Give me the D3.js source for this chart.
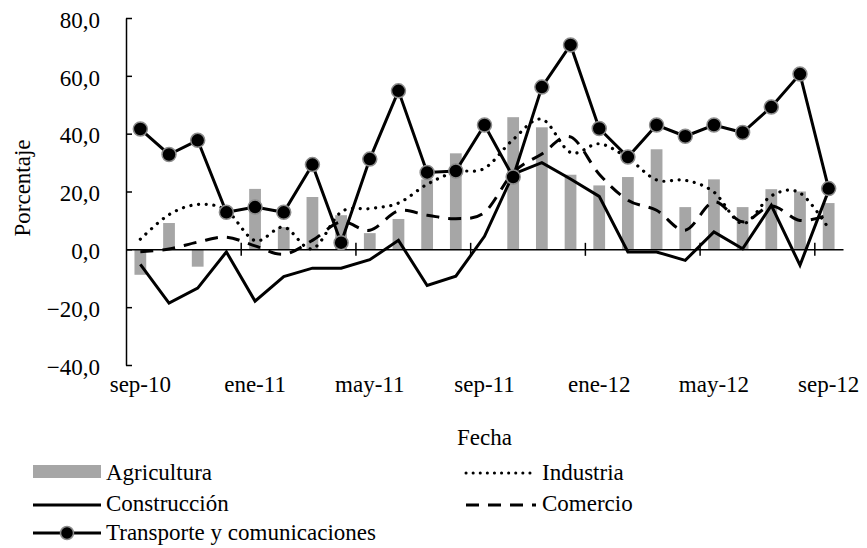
<!DOCTYPE html>
<html>
<head>
<meta charset="utf-8">
<script src="https://cdn.jsdelivr.net/npm/d3@7"></script>
<style>
  body { margin: 0; background: #fff; }
  text { font-family: "Liberation Serif", "Times New Roman", serif; fill: #000; }
  .axis path, .axis line { stroke: #000; stroke-width: 1.5; }
</style>
</head>
<body>
<div id="chart"></div>
<script>
var meses = ["sep-10","oct-10","nov-10","dic-10","ene-11","feb-11","mar-11","abr-11","may-11","jun-11","jul-11","ago-11",
             "sep-11","oct-11","nov-11","dic-11","ene-12","feb-12","mar-12","abr-12","may-12","jun-12","jul-12","ago-12","sep-12"];

var agricultura  = [-8.8, 9.1, -6.0, 0, 20.9, 7.7, 18.1, 11.8, 5.6, 10.5, 24.2, 33.2, 0, 45.7, 42.2, 25.8, 22.1, 25.0, 34.6, 14.6, 24.2, 14.6, 20.8, 20.0, 16.0];
var industria    = [3.5, 12.0, 15.5, 13.5, 3.0, 7.7, 0.2, 12.9, 14.1, 16.0, 22.5, 26.8, 28.0, 38.0, 45.0, 33.5, 36.5, 31.5, 24.0, 23.9, 19.8, 8.9, 18.5, 19.5, 7.2];
var construccion = [-5.2, -18.6, -13.4, -0.9, -17.9, -9.4, -6.5, -6.5, -3.6, 3.1, -12.5, -9.3, 4.5, 26.0, 30.0, 24.3, 18.3, -0.9, -0.9, -3.8, 6.0, 0.2, 15.2, -5.5, 20.4];
var comercio     = [-0.8, 0.1, 2.5, 4.2, 1.2, -1.7, 3.1, 9.5, 6.6, 13.3, 11.8, 10.6, 12.8, 26.5, 33.0, 38.9, 26.0, 17.0, 13.5, 6.6, 16.4, 9.5, 15.0, 10.0, 12.0];
var transporte   = [41.6, 32.8, 37.7, 12.8, 14.6, 12.8, 29.3, 2.3, 31.2, 54.8, 26.6, 27.1, 43.0, 25.0, 56.1, 70.7, 41.8, 31.9, 43.0, 39.1, 43.0, 40.4, 49.2, 60.6, 21.0];

var yTicks = [-40, -20, 0, 20, 40, 60, 80];
var labelMeses = meses.filter(function (d, i) { return i % 4 === 0; });

function drawChart() {
  var W = 867, H = 548;
  var pLeft = 126, pRight = 843, pTop = 18, pBottom = 365;
  var fs = "23px";

  var svg = d3.select("#chart").append("svg")
    .attr("width", W)
    .attr("height", H);

  var x = d3.scaleBand()
    .domain(meses)
    .range([pLeft, pRight]);

  var y = d3.scaleLinear()
    .domain([-40, 80])
    .range([pBottom, pTop]);

  // boundaries between categories, for the crossing tick marks
  var xb = d3.scaleLinear()
    .domain([0, meses.length])
    .range([pLeft, pRight]);

  var fmt = function (d) { return d3.format(".1f")(d).replace(".", ","); };

  // bars
  svg.append("g")
    .selectAll("rect")
    .data(agricultura)
    .enter().append("rect")
    .attr("x", function (d, i) { return x(meses[i]) + x.bandwidth() * 0.295; })
    .attr("width", x.bandwidth() * 0.41)
    .attr("y", function (d) { return y(Math.max(d, 0)); })
    .attr("height", function (d) { return Math.abs(y(d) - y(0)); })
    .style("fill", "#a6a6a6");

  // y axis
  svg.append("g")
    .attr("class", "axis")
    .attr("transform", "translate(" + pLeft + ",0)")
    .call(d3.axisLeft(y).tickValues(yTicks).tickSize(-6).tickSizeOuter(0).tickPadding(26).tickFormat(fmt))
    .call(function (g) {
      g.selectAll("text").style("font-size", fs).attr("dy", "0.4em");
    });

  // x axis at zero with crossing ticks
  var xAxis = svg.append("g")
    .attr("class", "axis")
    .attr("transform", "translate(0," + y(0) + ")")
    .call(d3.axisBottom(xb).tickValues([4, 8, 12, 16, 20, 24]).tickSize(6.5).tickSizeOuter(0).tickFormat(""));
  xAxis.selectAll(".tick line").attr("y1", -6.5);

  // month labels below the plot
  svg.append("g")
    .attr("transform", "translate(0," + pBottom + ")")
    .call(d3.axisBottom(x).tickValues(labelMeses).tickSize(0).tickPadding(10))
    .call(function (g) {
      g.select(".domain").remove();
      g.selectAll("text").style("font-size", fs).attr("dy", "0.75em");
    });

  var xc = function (d, i) { return x(meses[i]) + x.bandwidth() / 2; };

  var lineStraight = d3.line()
    .x(xc)
    .y(function (d) { return y(d); });

  var lineSmooth = d3.line()
    .x(xc)
    .y(function (d) { return y(d); })
    .curve(d3.curveCatmullRom.alpha(0));

  svg.append("path")
    .attr("d", lineSmooth(industria))
    .style("fill", "none")
    .style("stroke", "#000")
    .style("stroke-width", 3.2)
    .style("stroke-linecap", "round")
    .style("stroke-dasharray", "0.1 7.6");

  svg.append("path")
    .attr("d", lineStraight(construccion))
    .style("fill", "none")
    .style("stroke", "#000")
    .style("stroke-width", 3);

  svg.append("path")
    .attr("d", lineSmooth(comercio))
    .style("fill", "none")
    .style("stroke", "#000")
    .style("stroke-width", 3)
    .style("stroke-dasharray", "13 9");

  svg.append("path")
    .attr("d", lineStraight(transporte))
    .style("fill", "none")
    .style("stroke", "#000")
    .style("stroke-width", 3);

  svg.append("g")
    .selectAll("circle")
    .data(transporte)
    .enter().append("circle")
    .attr("cx", xc)
    .attr("cy", function (d) { return y(d); })
    .attr("r", 7)
    .style("fill", "#000")
    .style("stroke", "#8c8c8c")
    .style("stroke-width", 1.5);

  // axis titles
  svg.append("text")
    .attr("transform", "translate(30,188) rotate(-90)")
    .style("text-anchor", "middle")
    .style("font-size", fs)
    .text("Porcentaje");

  svg.append("text")
    .attr("x", (pLeft + pRight) / 2)
    .attr("y", 445)
    .style("text-anchor", "middle")
    .style("font-size", fs)
    .text("Fecha");

  // legend
  var lg = svg.append("g").style("font-size", fs);

  lg.append("rect").attr("x", 33).attr("y", 465).attr("width", 68).attr("height", 13).style("fill", "#a6a6a6");
  lg.append("text").attr("x", 106).attr("y", 480).text("Agricultura");

  lg.append("line").attr("x1", 33).attr("x2", 101).attr("y1", 505).attr("y2", 505)
    .style("stroke", "#000").style("stroke-width", 3);
  lg.append("text").attr("x", 106).attr("y", 511).text("Construcción");

  lg.append("line").attr("x1", 33).attr("x2", 101).attr("y1", 533).attr("y2", 533)
    .style("stroke", "#000").style("stroke-width", 3);
  lg.append("circle").attr("cx", 67).attr("cy", 533).attr("r", 6.5)
    .style("fill", "#000").style("stroke", "#8c8c8c").style("stroke-width", 1.5);
  lg.append("text").attr("x", 106).attr("y", 540).text("Transporte y comunicaciones");

  lg.append("line").attr("x1", 466).attr("x2", 532).attr("y1", 473).attr("y2", 473)
    .style("stroke", "#000").style("stroke-width", 3).style("stroke-linecap", "round").style("stroke-dasharray", "0.1 7");
  lg.append("text").attr("x", 542).attr("y", 480).text("Industria");

  lg.append("line").attr("x1", 466).attr("x2", 536).attr("y1", 505).attr("y2", 505)
    .style("stroke", "#000").style("stroke-width", 3).style("stroke-dasharray", "13 9");
  lg.append("text").attr("x", 542).attr("y", 511).text("Comercio");
}

drawChart();
</script>
</body>
</html>
